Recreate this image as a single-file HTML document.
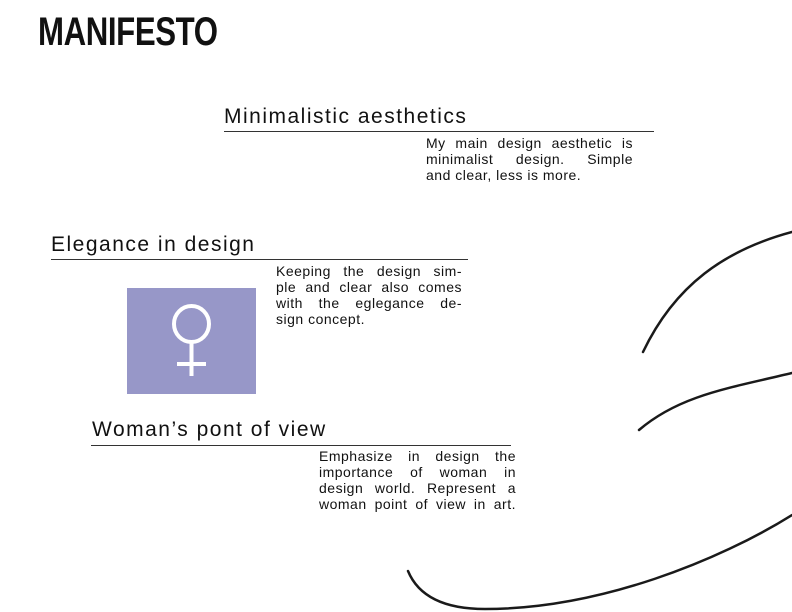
<!DOCTYPE html>
<html><head><meta charset="utf-8"><style>
body{margin:0;width:792px;height:612px;background:#fff;position:relative;overflow:hidden;font-family:"Liberation Sans",sans-serif;color:#111}
.a{position:absolute}
h1{position:absolute;left:38px;top:8px;margin:0;font-size:40px;font-weight:bold;letter-spacing:-0.5px;transform:scaleX(0.78);transform-origin:left top;line-height:48px}
.h{position:absolute;font-size:21px;letter-spacing:1.5px;line-height:24px;white-space:nowrap}
.rule{position:absolute;height:1px;background:#333}
.t{position:absolute;font-size:14px;line-height:16px;letter-spacing:0.5px}
.t div{text-align:justify;text-align-last:justify;white-space:nowrap;overflow:visible}
.t div.l{text-align-last:left}
</style></head><body>
<h1>MANIFESTO</h1>
<div class="h" style="left:224px;top:105px">Minimalistic aesthetics</div>
<div class="rule" style="left:224px;top:131px;width:430px"></div>
<div class="t" style="left:426px;top:135px;width:207px">
<div>My main design aesthetic is</div><div>minimalist design. Simple</div><div class="l">and clear, less is more.</div></div>

<div class="h" style="left:51px;top:233px">Elegance in design</div>
<div class="rule" style="left:51px;top:259px;width:417px"></div>
<div class="t" style="left:276px;top:263px;width:186px">
<div>Keeping the design sim-</div><div>ple and clear also comes</div><div>with the eglegance de-</div><div class="l">sign concept.</div></div>
<div class="a" style="left:127px;top:288px;width:129px;height:106px;background:#9797c8"></div>
<svg class="a" style="left:127px;top:288px" width="129" height="106">
<ellipse cx="64.5" cy="36" rx="17.5" ry="18" fill="none" stroke="#fff" stroke-width="4"/>
<line x1="64.5" y1="54" x2="64.5" y2="88" stroke="#fff" stroke-width="4"/>
<line x1="50" y1="76" x2="79" y2="76" stroke="#fff" stroke-width="4"/>
</svg>

<div class="h" style="left:92px;top:418px">Woman’s pont of view</div>
<div class="rule" style="left:91px;top:445px;width:420px"></div>
<div class="t" style="left:319px;top:448px;width:197px">
<div>Emphasize in design the</div><div>importance of woman in</div><div>design world. Represent a</div><div>woman point of view in art.</div></div>

<svg class="a" style="left:0;top:0" width="792" height="612">
<g fill="none" stroke="#1a1a1a" stroke-width="2.5" stroke-linecap="round">
<path d="M643 352 C675 285 725 250 792 232"/>
<path d="M639 430 C680 395 730 388 792 373"/>
<path d="M408 571 C420 600 450 609 485 609 C600 609 720 560 792 515"/>
</g></svg>
</body></html>
